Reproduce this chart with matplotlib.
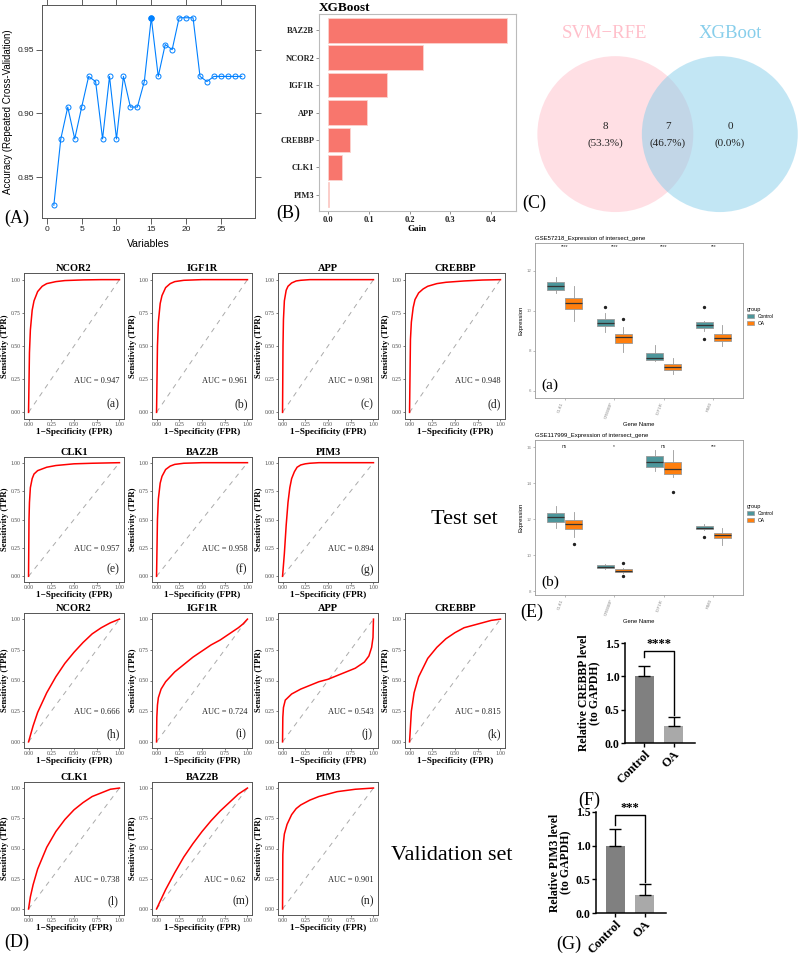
import matplotlib

matplotlib.use("Agg")
import matplotlib.pyplot as plt
from matplotlib.patches import Circle, Patch
import numpy as np

W, H = 798, 960
SERIF = ["Liberation Serif", "DejaVu Serif"]
SANS = ["Liberation Sans", "DejaVu Sans"]
plt.rcParams["font.family"] = SERIF

# ---------------- data ----------------
rfe_vars = list(range(1, 29))
rfe_acc = [0.828, 0.880, 0.905, 0.880, 0.905, 0.929, 0.925, 0.880, 0.929, 0.880,
           0.929, 0.905, 0.905, 0.925, 0.975, 0.929, 0.954, 0.950, 0.975, 0.975,
           0.975, 0.929, 0.925, 0.929, 0.929, 0.929, 0.929, 0.929]
rfe_best = 15

xgb_genes = ["BAZ2B", "NCOR2", "IGF1R", "APP", "CREBBP", "CLK1", "PIM3"]
xgb_gain = [0.439, 0.233, 0.145, 0.095, 0.054, 0.034, 0.002]

venn_names = ["SVM\u2212RFE", "XGBoot"]
venn_counts = [8, 7, 0]

test_genes = ["NCOR2", "IGF1R", "APP", "CREBBP", "CLK1", "BAZ2B", "PIM3"]
test_auc = ["0.947", "0.961", "0.981", "0.948", "0.957", "0.958", "0.894"]
test_tags = ["(a)", "(b)", "(c)", "(d)", "(e)", "(f)", "(g)"]
test_fpr = [
    [0, 0.01, 0.02, 0.04, 0.06, 0.1, 0.15, 0.2, 0.3, 0.4, 0.6, 0.8, 1.0],
    [0, 0.01, 0.02, 0.04, 0.06, 0.1, 0.15, 0.2, 0.3, 0.5, 1.0],
    [0, 0.005, 0.01, 0.02, 0.04, 0.06, 0.1, 0.15, 0.2, 0.3, 0.5, 1.0],
    [0, 0.01, 0.02, 0.04, 0.06, 0.1, 0.15, 0.2, 0.3, 0.4, 0.6, 0.8, 1.0],
    [0, 0.005, 0.01, 0.02, 0.04, 0.06, 0.1, 0.2, 0.3, 0.5, 0.7, 1.0],
    [0, 0.01, 0.02, 0.04, 0.06, 0.1, 0.15, 0.2, 0.3, 0.5, 1.0],
    [0, 0.02, 0.04, 0.06, 0.08, 0.1, 0.13, 0.16, 0.2, 0.25, 0.3, 0.4, 0.6, 1.0],
]
test_tpr = [
    [0, 0.45, 0.62, 0.77, 0.84, 0.91, 0.95, 0.97, 0.985, 0.993, 0.998, 1, 1],
    [0, 0.5, 0.68, 0.82, 0.88, 0.94, 0.97, 0.985, 0.995, 1, 1],
    [0, 0.5, 0.7, 0.84, 0.92, 0.95, 0.975, 0.99, 0.995, 1, 1, 1],
    [0, 0.55, 0.68, 0.79, 0.85, 0.9, 0.93, 0.95, 0.97, 0.98, 0.99, 0.997, 1],
    [0, 0.5, 0.65, 0.78, 0.86, 0.9, 0.93, 0.96, 0.975, 0.99, 0.995, 1],
    [0, 0.5, 0.68, 0.82, 0.88, 0.94, 0.97, 0.985, 0.995, 1, 1],
    [0, 0.2, 0.45, 0.65, 0.78, 0.86, 0.92, 0.96, 0.98, 0.99, 0.995, 1, 1, 1],
]

val_genes = ["NCOR2", "IGF1R", "APP", "CREBBP", "CLK1", "BAZ2B", "PIM3"]
val_auc = ["0.666", "0.724", "0.543", "0.815", "0.738", "0.62", "0.901"]
val_tags = ["(h)", "(i)", "(j)", "(k)", "(l)", "(m)", "(n)"]
val_fpr = [
    [0, 0.05, 0.1, 0.2, 0.3, 0.4, 0.5, 0.6, 0.7, 0.8, 0.9, 1.0],
    [0, 0.003, 0.01, 0.02, 0.05, 0.1, 0.2, 0.3, 0.4, 0.5, 0.6, 0.7, 0.8, 0.9, 0.95, 1.0],
    [0, 0.003, 0.01, 0.03, 0.1, 0.2, 0.3, 0.4, 0.5, 0.6, 0.7, 0.8, 0.9, 0.95, 0.98, 0.995, 1.0],
    [0, 0.02, 0.05, 0.1, 0.2, 0.3, 0.4, 0.5, 0.6, 0.7, 0.8, 0.9, 1.0],
    [0, 0.02, 0.05, 0.1, 0.2, 0.3, 0.4, 0.5, 0.6, 0.7, 0.8, 0.9, 1.0],
    [0, 0.1, 0.2, 0.3, 0.4, 0.5, 0.6, 0.7, 0.8, 0.9, 1.0],
    [0, 0.003, 0.01, 0.02, 0.05, 0.1, 0.15, 0.2, 0.3, 0.4, 0.5, 0.6, 0.7, 0.8, 0.9, 1.0],
]
val_tpr = [
    [0, 0.13, 0.24, 0.4, 0.53, 0.64, 0.73, 0.81, 0.88, 0.93, 0.97, 1],
    [0, 0.2, 0.3, 0.36, 0.43, 0.49, 0.57, 0.63, 0.69, 0.74, 0.79, 0.83, 0.88, 0.93, 0.96, 1],
    [0, 0.2, 0.28, 0.34, 0.39, 0.43, 0.46, 0.49, 0.51, 0.54, 0.57, 0.6, 0.65, 0.7, 0.77, 0.85, 1],
    [0, 0.25, 0.4, 0.53, 0.68, 0.77, 0.84, 0.89, 0.93, 0.95, 0.97, 0.99, 1],
    [0, 0.1, 0.2, 0.33, 0.51, 0.64, 0.74, 0.82, 0.88, 0.93, 0.96, 0.99, 1],
    [0, 0.16, 0.3, 0.43, 0.54, 0.64, 0.73, 0.81, 0.88, 0.95, 1],
    [0, 0.45, 0.55, 0.62, 0.7, 0.78, 0.83, 0.86, 0.9, 0.93, 0.95, 0.97, 0.98, 0.99, 0.995, 1],
]

box_genes = ["CLK1", "CREBBP", "IGF1R", "PIM3"]
# (whislo, q1, med, q3, whishi, fliers)
gse57218_control = [(10.9, 11.05, 11.25, 11.45, 11.7, []),
                    (8.95, 9.25, 9.4, 9.6, 9.9, [10.2]),
                    (7.5, 7.55, 7.65, 7.9, 8.3, []),
                    (9.0, 9.15, 9.3, 9.45, 9.5, [10.2, 8.6])]
gse57218_oa = [(9.5, 10.1, 10.4, 10.65, 11.25, []),
               (7.95, 8.4, 8.7, 8.85, 9.2, [9.6]),
               (6.85, 7.05, 7.2, 7.35, 7.65, []),
               (8.25, 8.5, 8.65, 8.85, 9.3, [])]
gse57218_sig = ["****", "****", "****", "***"]

gse117999_control = [(11.5, 11.85, 12.1, 12.35, 12.7, []),
                     (9.25, 9.3, 9.36, 9.44, 9.5, []),
                     (14.67, 14.89, 15.17, 15.5, 15.83, []),
                     (11.4, 11.44, 11.5, 11.6, 11.7, [11.0])]
gse117999_oa = [(11.0, 11.45, 11.75, 11.95, 12.4, [10.6]),
                (9.0, 9.05, 9.12, 9.22, 9.3, [9.55, 8.83]),
                (14.33, 14.5, 14.78, 15.17, 15.83, [13.5]),
                (10.56, 10.94, 11.1, 11.22, 11.5, [])]
gse117999_sig = ["ns", "*", "ns", "***"]

qpcr_groups = ["Control", "OA"]
crebbp_mean = [1.0, 0.25]
crebbp_err = [0.16, 0.14]
pim3_mean = [1.0, 0.26]
pim3_err = [0.25, 0.17]

# ---------------- helpers ----------------
fig = plt.figure(figsize=(W / 100, H / 100), dpi=100, facecolor="white")


def px_axes(x0, y0, x1, y1):
    return fig.add_axes([x0 / W, 1 - y1 / H, (x1 - x0) / W, (y1 - y0) / H])


def px_text(x, y, s, **kw):
    fig.text(x / W, 1 - y / H, s, **kw)


def panel_letter(x, y, s):
    px_text(x, y, s, fontsize=13, ha="left", va="center", family=SERIF)


# ---------------- (A) RFE accuracy ----------------
ax = px_axes(42, 5, 255, 218)
ax.plot(rfe_vars, rfe_acc, color="#0080ff", lw=0.8, marker="o", mfc="none", ms=3.6, mew=0.7)
ax.plot([rfe_best], [rfe_acc[rfe_best - 1]], "o", color="#0080ff", ms=3.6)
ax.set_xlim(-0.7, 29.9)
ax.set_ylim(0.818, 0.985)
ax.set_xticks([0, 5, 10, 15, 20, 25])
ax.set_yticks([0.85, 0.90, 0.95])
ax.set_yticklabels(["0.85", "0.90", "0.95"])
ax.tick_params(direction="out", top=True, right=True, length=4, width=0.6, colors="#444444",
               labelsize=6, labelcolor="#222222", pad=2)
for lab in ax.get_xticklabels() + ax.get_yticklabels():
    lab.set_family(SANS)
for sp in ax.spines.values():
    sp.set_color("#555555")
    sp.set_linewidth(0.7)
ax.set_xlabel("Variables", family=SANS, fontsize=7.5, labelpad=4)
ax.set_ylabel("Accuracy (Repeated Cross-Validation)", family=SANS, fontsize=7, labelpad=3)
panel_letter(4, 218, "(A)")

# ---------------- (B) XGBoost gain ----------------
ax = px_axes(319, 14, 516, 211)
ypos = np.arange(len(xgb_genes))[::-1]
ax.barh(ypos, xgb_gain, height=0.9, color="#F8766D", edgecolor="#fbd3cf", lw=0.6)
ax.set_ylim(-0.6, len(xgb_genes) - 0.4)
ax.set_xlim(-0.022, 0.461)
ax.set_yticks(ypos)
ax.set_yticklabels(xgb_genes, fontweight="bold", fontsize=6)
ax.set_xticks([0.0, 0.1, 0.2, 0.3, 0.4])
ax.set_xticklabels(["0.0", "0.1", "0.2", "0.3", "0.4"], fontweight="bold", fontsize=6)
ax.tick_params(length=2, width=0.5, colors="#666666", labelcolor="#222222", pad=1.5)
for sp in ax.spines.values():
    sp.set_color("#bbbbbb")
    sp.set_linewidth(0.8)
ax.set_xlabel("Gain", fontweight="bold", fontsize=6.5, labelpad=1)
ax.set_title("XGBoost", loc="left", fontweight="bold", fontsize=9.5, pad=0.5)
panel_letter(276, 213, "(B)")

# ---------------- (C) Venn ----------------
ax = px_axes(520, 0, 798, 230)
ax.set_xlim(-1.89, 1.67)
ax.set_ylim(-1.23, 1.72)
ax.set_aspect("equal")
ax.axis("off")
d = 0.67
ax.add_patch(Circle((-d, 0), 1.0, facecolor="#FFC0CB", alpha=0.5, lw=0))
ax.add_patch(Circle((d, 0), 1.0, facecolor="#87CEEB", alpha=0.5, lw=0))
ax.text(-0.81, 1.29, venn_names[0], color="#FFC0CB", fontsize=13.5, ha="center", va="center")
ax.text(0.80, 1.29, venn_names[1], color="#87CEEB", fontsize=13.5, ha="center", va="center")
total = sum(venn_counts)
for xc, n in zip([-0.8, 0.0, 0.8], venn_counts):
    ax.text(xc, 0.1, f"{n}", fontsize=8, ha="center", va="center", color="#222222")
    ax.text(xc, -0.12, f"({100 * n / total:.1f}%)", fontsize=8, ha="center", va="center", color="#222222")
panel_letter(522, 203, "(C)")

# ---------------- (D) ROC curves ----------------
col_x = [24, 152, 278, 405]
row_y = [(273, 419), (457, 582), (613, 748), (782, 915)]


def roc_panel(x0, ytop, ybot, gene, fpr, tpr, auc, tag):
    ax = px_axes(x0, ytop, x0 + 100, ybot)
    ax.plot([0, 1], [0, 1], color="#aaaaaa", lw=0.7, ls=(0, (5, 5)))
    ax.plot(fpr, tpr, color="#ff0000", lw=1.1)
    ax.set_xlim(-0.05, 1.05)
    ax.set_ylim(-0.05, 1.05)
    ticks = [0, 0.25, 0.5, 0.75, 1.0]
    labels = ["0.00", "0.25", "0.50", "0.75", "1.00"]
    ax.set_xticks(ticks)
    ax.set_xticklabels(labels)
    ax.set_yticks(ticks)
    ax.set_yticklabels(labels)
    ax.tick_params(length=1.5, width=0.5, labelsize=4, colors="#444444", pad=1)
    for sp in ax.spines.values():
        sp.set_color("#555555")
        sp.set_linewidth(0.7)
    ax.set_title(gene, fontweight="bold", fontsize=7.5, pad=1.5)
    ax.set_xlabel("1\u2212Specificity (FPR)", fontweight="bold", fontsize=6.6, labelpad=0.3)
    ax.set_ylabel("Sensitivity (TPR)", fontweight="bold", fontsize=6.2, labelpad=1)
    ax.text(0.75, 0.24, f"AUC = {auc}", fontsize=6, ha="center", va="center", color="#222222")
    ax.text(0.93, 0.06, tag, fontsize=8.5, ha="center", va="center", color="#222222")


slots = [(0, 0), (0, 1), (0, 2), (0, 3), (1, 0), (1, 1), (1, 2)]
for i, (r, c) in enumerate(slots):
    roc_panel(col_x[c], row_y[r][0], row_y[r][1], test_genes[i], test_fpr[i], test_tpr[i],
              test_auc[i], test_tags[i])
for i, (r, c) in enumerate(slots):
    roc_panel(col_x[c], row_y[r + 2][0], row_y[r + 2][1], val_genes[i], val_fpr[i], val_tpr[i],
              val_auc[i], val_tags[i])

px_text(464, 520, "Test set", fontsize=16, ha="center", va="center")
px_text(452, 855, "Validation set", fontsize=16, ha="center", va="center")
panel_letter(4, 942, "(D)")

# ---------------- (E) expression boxplots ----------------
TEAL = "#4D969B"
ORANGE = "#FF7F0E"


def to_stats(rows):
    return [dict(whislo=a, q1=b, med=c, q3=dd, whishi=e, fliers=f) for a, b, c, dd, e, f in rows]


def box_panel(box, title, control, oa, sig, yticks, ylim, sig_y, tag):
    ax = px_axes(*box)
    pos = np.arange(1, len(box_genes) + 1)
    common = dict(widths=0.34, patch_artist=True, showcaps=False,
                  medianprops=dict(color="#333333", lw=0.9),
                  whiskerprops=dict(color="#999999", lw=0.6),
                  flierprops=dict(marker="o", ms=1.4, mfc="#222222", mec="#222222"))
    ax.bxp(to_stats(control), positions=pos - 0.18,
           boxprops=dict(facecolor=TEAL, edgecolor="#999999", lw=0.6), **common)
    ax.bxp(to_stats(oa), positions=pos + 0.18,
           boxprops=dict(facecolor=ORANGE, edgecolor="#999999", lw=0.6), **common)
    for p, s in zip(pos, sig):
        ax.text(p, sig_y, s, fontsize=3.5, ha="center", va="center", family=SANS, color="#222222")
    ax.set_xlim(0.4, len(box_genes) + 0.6)
    ax.set_ylim(*ylim)
    ax.set_xticks(pos)
    ax.set_xticklabels(box_genes, rotation=70, ha="right", family=SANS, fontsize=3.2, color="#555555")
    ax.set_yticks(yticks)
    ax.set_yticklabels([str(v) for v in yticks], family=SANS, fontsize=3.2, color="#555555")
    ax.tick_params(length=1.5, width=0.4, colors="#888888", pad=1)
    for sp in ax.spines.values():
        sp.set_color("#999999")
        sp.set_linewidth(0.6)
    ax.set_xlabel("Gene Name", family=SANS, fontsize=4.2, labelpad=2)
    ax.set_ylabel("Expression", family=SANS, fontsize=4.2, labelpad=2)
    ax.set_title(title, loc="left", family=SANS, fontsize=4.3, pad=2)
    handles = [Patch(facecolor=TEAL, edgecolor="#999999", lw=0.5, label="Control"),
               Patch(facecolor=ORANGE, edgecolor="#999999", lw=0.5, label="OA")]
    leg = ax.legend(handles=handles, title="group", loc="upper left", bbox_to_anchor=(1.01, 0.6),
                    frameon=False, prop={"family": SANS, "size": 3.5}, handlelength=1.4,
                    handleheight=1.0, borderaxespad=0, labelspacing=0.4)
    leg.get_title().set_fontsize(4)
    leg.get_title().set_family(SANS)
    leg._legend_box.align = "left"
    ax.text(0.03, 0.08, tag, transform=ax.transAxes, fontsize=11, ha="left", va="center")


box_panel((535, 243, 743, 398), "GSE57218_Expression of intersect_gene", gse57218_control,
          gse57218_oa, gse57218_sig, [6, 8, 10, 12], (5.65, 13.4), 13.2, "(a)")
box_panel((535, 440, 743, 595), "GSE117999_Expression of intersect_gene", gse117999_control,
          gse117999_oa, gse117999_sig, [8, 10, 12, 14, 16], (7.78, 16.39), 16.05, "(b)")
panel_letter(520, 612, "(E)")


# ---------------- (F)/(G) qPCR bars ----------------
def qpcr_panel(box, means, errs, ylabel, stars, bracket):
    ax = px_axes(*box)
    xs = np.arange(len(qpcr_groups))
    ax.bar(xs, means, width=0.655, color=["#808080", "#A9A9A9"])
    ax.errorbar(xs, means, yerr=[[0, 0], errs], fmt="none", ecolor="black", elinewidth=1.0,
                capsize=4, capthick=1.0)
    y_left, y_top, y_right = bracket
    ax.plot([0, 0, 1, 1], [y_left, y_top, y_top, y_right], color="black", lw=1.0, clip_on=False)
    ax.text(0.5, y_top + 0.02, stars, fontsize=9, fontweight="bold", ha="center", va="bottom")
    ax.set_xlim(-0.67, 1.74)
    ax.set_ylim(0, 1.5)
    ax.set_yticks([0, 0.5, 1.0, 1.5])
    ax.set_yticklabels(["0.0", "0.5", "1.0", "1.5"], fontweight="bold", fontsize=8.5)
    ax.set_xticks(xs)
    ax.set_xticklabels(qpcr_groups, rotation=45, ha="right", rotation_mode="anchor",
                       fontweight="bold", fontsize=9)
    ax.tick_params(length=3, width=1.0, pad=1)
    for side in ("top", "right"):
        ax.spines[side].set_visible(False)
    for side in ("left", "bottom"):
        ax.spines[side].set_linewidth(1.1)
    ax.set_ylabel(ylabel, fontweight="bold", fontsize=8.5, labelpad=2, linespacing=1.0)


qpcr_panel((625, 643, 695, 743), crebbp_mean, crebbp_err, "Relative CREBBP level\n(to GAPDH)",
           "****", (1.29, 1.38, 0.42))
panel_letter(578, 800, "(F)")
qpcr_panel((596, 812, 666, 913), pim3_mean, pim3_err, "Relative PIM3 level\n(to GAPDH)",
           "***", (1.3, 1.45, 0.46))
panel_letter(556, 944, "(G)")

fig.savefig("out.png", dpi=100, facecolor="white")
